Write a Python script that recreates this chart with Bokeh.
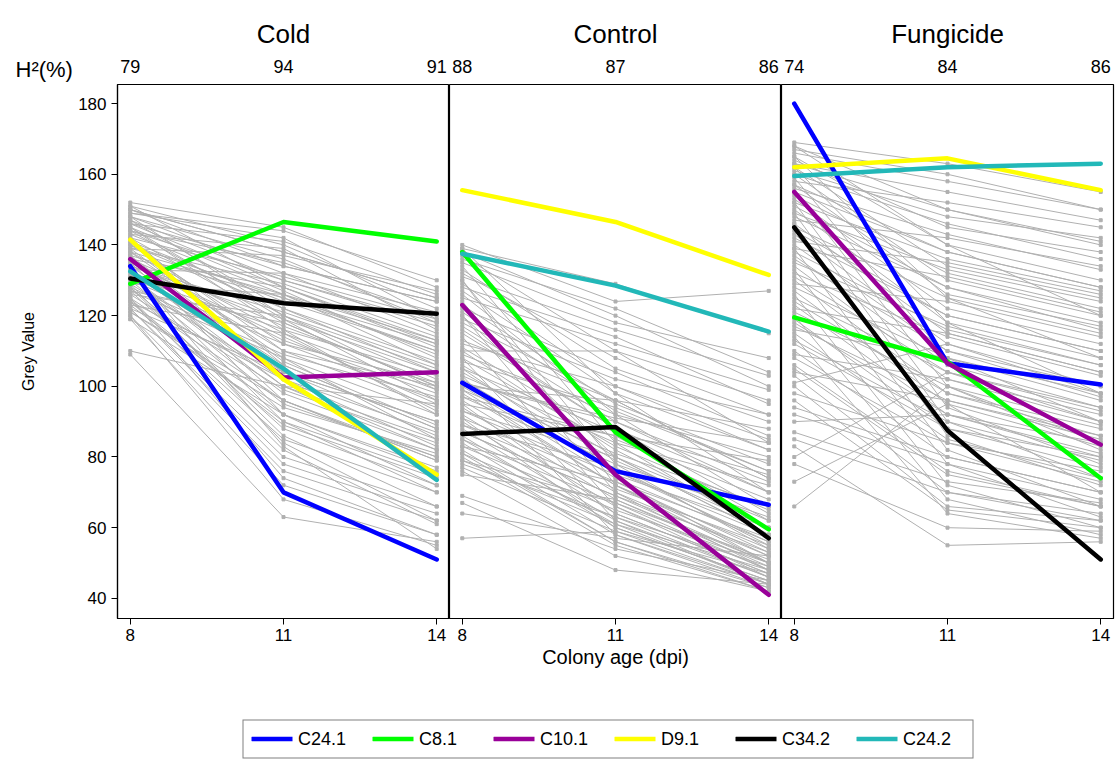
from bokeh.plotting import figure
from bokeh.models import Range1d, LinearAxis, FixedTicker, Legend, LegendItem, Title
from bokeh.layouts import row, column
from bokeh.embed import file_html
from bokeh.resources import INLINE

FONT = "Liberation Sans"

days = [8, 11, 14]
panel_titles = ["Cold", "Control", "Fungicide"]
h2_cold = ["79", "94", "91"]
h2_control = ["88", "87", "86"]
h2_fungicide = ["74", "84", "86"]
y_ticks = [40, 60, 80, 100, 120, 140, 160, 180]

genotypes = ["C24.1", "C8.1", "C10.1", "D9.1", "C34.2", "C24.2"]
geno_colors = ["#0000FF", "#00FF00", "#990099", "#FFFF00", "#000000", "#22B8B8"]

# highlighted genotypes (grey value at day 8, 11, 14)
cold_hl = [[134, 70, 51], [129, 146.5, 141], [136, 102.5, 104],
           [141.5, 102, 75], [130.5, 123.5, 120.5], [132.5, 105, 73.5]]
control_hl = [[101, 76, 66.5], [138, 87, 59.5], [123, 75, 41],
              [155.5, 146.5, 131.5], [86.5, 88.5, 57], [137.5, 128.5, 115.5]]
fungicide_hl = [[180, 106.5, 100.5], [119.5, 107, 74], [155, 106.5, 83.5],
                [162, 164.5, 155.5], [145, 87.5, 51], [159.5, 162, 163]]

# background isolates (grey lines)
cold_d8 = [152, 151, 150, 149, 148, 148, 147, 146, 146, 145, 144, 144, 143, 142, 142, 141, 140, 140, 139, 138,
           138, 137, 136, 136, 135, 134, 134, 133, 132, 131, 131, 130, 129, 128, 128, 127, 126, 125, 124, 123,
           122, 121, 120, 119, 110, 109, 150, 145, 139, 133,
           151, 149, 147, 146, 145, 143, 141, 140, 139, 137, 136, 135, 134, 133, 132, 130, 129, 128, 127, 126,
           125, 124, 123, 122, 121, 150, 148, 144, 142, 138, 137, 135, 131, 129, 127, 125, 124, 122, 120, 119]
cold_d11 = [145, 140, 138, 144, 136, 132, 130, 141, 128, 127, 135, 120, 126, 118, 131, 124, 122, 112, 129, 115,
            108, 125, 117, 110, 113, 106, 121, 100, 104, 98, 116, 95, 102, 92, 109, 88, 99, 96, 85, 90,
            80, 94, 76, 72, 100, 63, 134, 119, 107, 83,
            128, 142, 122, 134, 116, 139, 110, 125, 137, 104, 128, 96, 119, 132, 90, 112, 126, 86, 108, 120,
            82, 102, 115, 78, 96, 138, 120, 130, 106, 126, 92, 114, 100, 84, 118, 74, 89, 104, 68, 92]
cold_d14 = [128, 122, 125, 130, 118, 115, 117, 126, 111, 108, 120, 105, 113, 100, 119, 110, 107, 96, 114, 99,
            92, 112, 101, 94, 98, 88, 106, 85, 90, 82, 103, 80, 87, 76, 97, 72, 84, 79, 70, 75,
            66, 81, 62, 58, 95, 56, 124, 104, 89, 54,
            112, 119, 104, 124, 92, 116, 100, 110, 127, 90, 113, 79, 96, 121, 70, 101, 109, 66, 85, 102,
            61, 83, 93, 64, 80, 125, 99, 118, 88, 106, 77, 95, 82, 62, 100, 58, 74, 86, 55, 72]

control_d8 = [140, 139, 137, 135, 133, 131, 129, 127, 125, 123, 121, 119, 117, 115, 113, 111, 109, 108, 106, 105,
              104, 103, 102, 101, 100, 99, 98, 97, 96, 95, 94, 93, 92, 91, 90, 89, 88, 87, 86, 85,
              84, 83, 82, 81, 80, 79, 69, 67, 64, 57,
              139, 136, 134, 132, 130, 128, 126, 124, 122, 120, 118, 116, 114, 112, 110, 108, 107, 105, 103, 101,
              99, 97, 95, 93, 91, 89, 87, 85, 83, 81, 79, 78, 77, 76, 75, 138, 130, 120, 110, 100]
control_d11 = [124, 129, 110, 118, 105, 116, 100, 98, 112, 95, 93, 102, 90, 88, 96, 85, 92, 83, 80, 87,
               79, 84, 76, 91, 74, 81, 72, 78, 70, 86, 68, 75, 66, 73, 64, 71, 62, 69, 60, 67,
               58, 65, 56, 63, 55, 61, 54, 48, 57, 59,
               98, 122, 84, 108, 78, 114, 92, 74, 104, 70, 96, 88, 66, 100, 82, 62, 94, 76, 58, 90,
               72, 86, 64, 80, 60, 77, 69, 61, 73, 56, 67, 63, 59, 52, 68, 120, 72, 80, 110, 96]
control_d14 = [127, 115, 96, 108, 90, 103, 85, 82, 99, 78, 76, 92, 73, 70, 88, 68, 80, 65, 62, 75,
               60, 72, 58, 84, 56, 66, 54, 63, 52, 79, 50, 60, 48, 57, 47, 55, 46, 53, 45, 51,
               44, 50, 43, 49, 42, 48, 45, 44, 52, 47,
               70, 104, 58, 92, 54, 95, 66, 50, 86, 48, 74, 64, 46, 82, 60, 44, 76, 56, 43, 70,
               52, 62, 47, 58, 45, 55, 50, 44, 53, 42, 48, 46, 44, 42, 49, 100, 50, 58, 84, 74]

fungicide_d8 = [169, 168, 166, 165, 164, 163, 162, 161, 160, 158, 157, 156, 155, 153, 152, 150, 149, 148, 146, 145,
                143, 142, 140, 139, 137, 135, 134, 132, 130, 128, 127, 125, 123, 121, 119, 117, 115, 113, 110, 108,
                105, 103, 100, 96, 92, 87, 83, 78, 73, 66,
                168, 167, 165, 163, 162, 160, 159, 157, 155, 154, 152, 151, 149, 147, 146, 144, 141, 139, 138, 136,
                133, 131, 129, 126, 124, 122, 120, 118, 116, 114, 112, 109, 106, 104, 101, 98, 94, 90, 85, 80]
fungicide_d11 = [163, 150, 158, 140, 145, 155, 134, 148, 130, 152, 126, 143, 138, 122, 136, 118, 133, 128, 115, 125,
                 112, 120, 110, 131, 106, 117, 102, 114, 98, 108, 95, 104, 92, 100, 88, 96, 85, 90, 80, 84,
                 75, 70, 66, 65, 78, 73, 55, 60, 95, 100,
                 140, 160, 125, 150, 118, 146, 108, 138, 100, 132, 94, 128, 90, 142, 86, 120, 135, 82, 116, 110,
                 78, 104, 124, 72, 98, 115, 68, 92, 108, 64, 88, 102, 76, 96, 112, 84, 80, 92, 70, 104]
fungicide_d14 = [155, 140, 150, 130, 138, 147, 125, 142, 120, 145, 117, 133, 128, 112, 127, 108, 124, 118, 104, 115,
                 100, 110, 97, 121, 94, 106, 90, 103, 86, 98, 83, 93, 80, 89, 77, 85, 74, 79, 70, 73,
                 66, 64, 62, 60, 68, 67, 56, 59, 70, 82,
                 120, 150, 108, 141, 98, 136, 90, 128, 84, 122, 78, 116, 74, 134, 72, 110, 126, 66, 106, 100,
                 63, 94, 114, 60, 88, 104, 58, 84, 96, 57, 80, 92, 66, 86, 98, 76, 70, 81, 62, 90]

panel_data = [
    (cold_d8, cold_d11, cold_d14, cold_hl, h2_cold),
    (control_d8, control_d11, control_d14, control_hl, h2_control),
    (fungicide_d8, fungicide_d11, fungicide_d14, fungicide_hl, h2_fungicide),
]

GREY = "#B0B0B0"
figs = []
for i, (title, (d8, d11, d14, hl, h2)) in enumerate(zip(panel_titles, panel_data)):
    p = figure(frame_width=332, frame_height=534,
               min_border_left=117 if i == 0 else 0,
               min_border_right=5 if i == 2 else 0,
               min_border_top=84, min_border_bottom=85,
               x_range=Range1d(7.75, 14.25), y_range=Range1d(34.3, 185.4),
               x_axis_location=None, y_axis_location=None,
               toolbar_location=None, output_backend="svg",
               title=title)
    p.title.align = "center"
    p.title.text_font = FONT
    p.title.text_font_size = "26px"
    p.title.text_font_style = "normal"
    p.title.text_color = "black"
    p.title.standoff = 16
    p.grid.visible = False
    p.outline_line_color = "black"
    p.outline_line_width = 1.2
    p.background_fill_color = "white"
    p.border_fill_color = "white"

    xs = [days for _ in d8]
    ys = [[a, b, c] for a, b, c in zip(d8, d11, d14)]
    p.multi_line(xs=xs, ys=ys, line_color=GREY, line_width=1)
    allx = [d for _ in d8 for d in days]
    ally = [v for trip in ys for v in trip]
    p.scatter(allx, ally, marker="square", size=3, color=GREY)

    for vals, col in zip(hl, geno_colors):
        p.line(days, vals, line_color=col, line_width=4.5, line_cap="round", line_join="round")

    bax = LinearAxis(ticker=FixedTicker(ticks=days))
    bax.major_label_text_font = FONT
    bax.major_label_text_font_size = "17px"
    bax.major_label_text_color = "black"
    bax.major_tick_out = 6
    bax.major_tick_in = 0
    bax.minor_tick_line_color = None
    bax.axis_line_color = "black"
    bax.axis_line_width = 1.2
    bax.major_label_standoff = 4
    if i == 1:
        bax.axis_label = "Colony age (dpi)"
        bax.axis_label_text_font = FONT
        bax.axis_label_text_font_size = "20px"
        bax.axis_label_text_font_style = "normal"
        bax.axis_label_text_color = "black"
        bax.axis_label_standoff = 2
    p.add_layout(bax, "below")

    tax = LinearAxis(ticker=FixedTicker(ticks=days),
                     major_label_overrides={d: h for d, h in zip(days, h2)})
    tax.major_label_text_font = FONT
    tax.major_label_text_font_size = "18px"
    tax.major_label_text_color = "black"
    tax.major_tick_line_color = None
    tax.minor_tick_line_color = None
    tax.axis_line_color = None
    tax.major_label_standoff = 6
    p.add_layout(tax, "above")

    # row-label for the heritability axis (blank spacer in the other panels)
    h2_title = Title(text="H²(%)" if i == 0 else " ", align="left", offset=-102,
                     text_font=FONT, text_font_size="22px", text_font_style="normal",
                     text_color="black", standoff=-50)
    p.add_layout(h2_title, "above")

    if i == 0:
        lax = LinearAxis(ticker=FixedTicker(ticks=y_ticks))
        lax.major_label_text_font = FONT
        lax.major_label_text_font_size = "17px"
        lax.major_label_text_color = "black"
        lax.major_tick_out = 6
        lax.major_tick_in = 0
        lax.minor_tick_line_color = None
        lax.axis_line_color = "black"
        lax.axis_line_width = 1.2
        lax.axis_label = "Grey Value"
        lax.axis_label_text_font = FONT
        lax.axis_label_text_font_size = "16px"
        lax.axis_label_text_font_style = "normal"
        lax.axis_label_text_color = "black"
        lax.axis_label_standoff = 38
        p.add_layout(lax, "left")
    figs.append(p)

# legend strip
pl = figure(frame_width=1021, frame_height=43, min_border_left=97, min_border_right=0,
            min_border_top=14, min_border_bottom=0,
            x_range=Range1d(0, 1), y_range=Range1d(0, 1),
            x_axis_location=None, y_axis_location=None,
            toolbar_location=None, output_backend="svg")
pl.grid.visible = False
pl.outline_line_color = None
items = []
for g, col in zip(genotypes, geno_colors):
    r = pl.line([5, 6], [5, 6], line_color=col, line_width=4.5, line_cap="round")
    items.append(LegendItem(label=g, renderers=[r]))
leg = Legend(items=items, orientation="horizontal", location="center",
             border_line_color="black", border_line_width=1.2,
             label_text_font=FONT, label_text_font_size="18px", label_text_color="black",
             glyph_width=41, glyph_height=20, label_standoff=6,
             spacing=13, padding=8, label_width=61, margin=0)
pl.add_layout(leg, "center")

layout = column(row(*figs), pl)
open("out.html", "w").write(file_html(layout, INLINE))
